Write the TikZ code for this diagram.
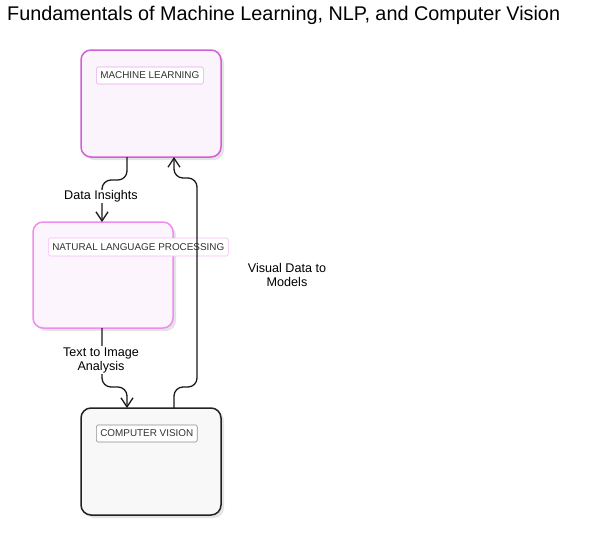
\documentclass[tikz,border=0pt]{standalone}
\usepackage{fontspec}
\setmainfont{Liberation Sans}
\usetikzlibrary{arrows.meta}
\definecolor{mlborder}{HTML}{D060D8}
\definecolor{mlfill}{HTML}{FCF4FC}
\definecolor{nlpborder}{HTML}{F08CF0}
\definecolor{nlpfill}{HTML}{FDF5FD}
\definecolor{cvborder}{HTML}{222222}
\definecolor{cvfill}{HTML}{F8F8F8}
\definecolor{shadowc}{HTML}{E4E4E4}
\definecolor{labtext}{HTML}{333333}
\tikzset{
  x=1pt,y=-1pt,
  panel/.style={rounded corners=10pt, line width=1.5pt},
  shade/.style={rounded corners=10pt, fill=shadowc, draw=none},
  tag/.style={draw, fill=white, rounded corners=1.5pt, line width=0.6pt, inner xsep=4pt, inner ysep=2.5pt,
     font=\fontsize{9.9}{11}\selectfont, text=labtext, anchor=west},
  conn/.style={line width=1.3pt, draw=black!90, rounded corners=9pt, -{Straight Barb[length=9pt,width=12pt,line width=1.3pt]}},
  lab/.style={font=\fontsize{12.6}{14}\selectfont, align=center, fill=white, inner sep=1pt},
}
\begin{document}
\begin{tikzpicture}
\useasboundingbox (0,0) rectangle (606,560);
\node[anchor=west, font=\fontsize{19.8}{22}\selectfont, inner sep=0pt] (title) at (7,15.5) {Fundamentals of Machine Learning, NLP, and Computer Vision};
% shadows
\fill[shade] (84,53) rectangle (224,160);
\fill[shade] (36,225) rectangle (176,331);
\fill[shade] (84,411) rectangle (224,518);
% panels
\draw[panel, draw=mlborder, fill=mlfill] (81,50) rectangle (221,157);
\coordinate (mlA) at (127,157);
\coordinate (mlB) at (174,157);
\draw[panel, draw=nlpborder, fill=nlpfill] (33,222) rectangle (173,328);
\coordinate (nlpT) at (102,222);
\coordinate (nlpB) at (102,328);
\draw[panel, draw=cvborder, fill=cvfill] (81,408) rectangle (221,515);
\coordinate (cvA) at (127,408);
\coordinate (cvB) at (174,408);
% tags
\node[tag, draw=mlborder!55, minimum height=17pt] (mltag) at (96,75.5) {MACHINE LEARNING};
\node[tag, draw=nlpborder!60, minimum height=18pt] (nlptag) at (48,247) {NATURAL LANGUAGE PROCESSING};
\node[tag, draw=black!45, minimum height=17pt] (cvtag) at (96,433.5) {COMPUTER VISION};
% connectors
\draw[conn] (mlA) -- (127,180) -- (102,180) -- (nlpT);
\node[lab] (l1) at (101,196.5) {Data Insights};
\draw[conn] (nlpB) -- (102,387) -- (127,387) -- (cvA);
\node[lab] (l2) at (101,360) {Text to Image\\Analysis};
\draw[conn] (cvB) -- (174,387) -- (197,387) -- (197,178) -- (174,178) -- (mlB);
\node[lab, fill=none] (l3) at (287,275) {Visual Data to\\Models};
\end{tikzpicture}
\end{document}
